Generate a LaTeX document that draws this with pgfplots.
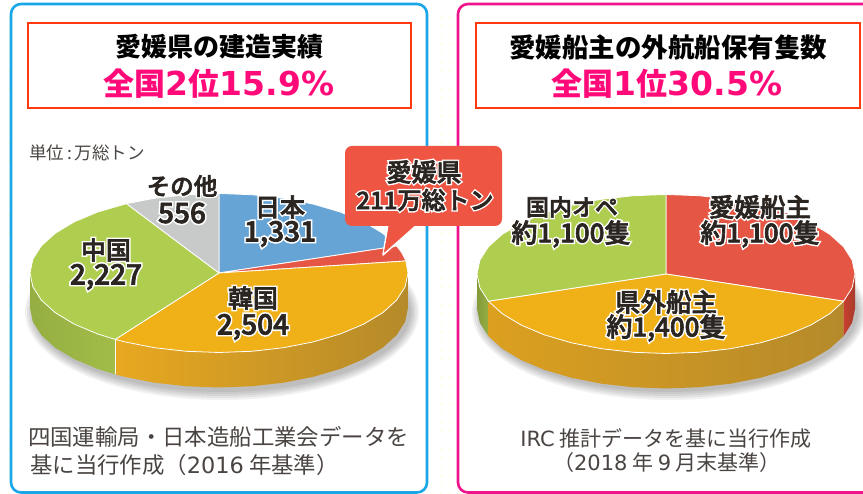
\documentclass[border=0pt]{standalone}
\usepackage{fontspec}
\usepackage{pgfplots}
\pgfplotsset{compat=1.18}
\usetikzlibrary{patterns.meta}
\setmainfont{Noto Sans CJK JP}
\newfontfamily\dv{DejaVu Sans}
\newfontfamily\labfont[FakeBold=2.5]{Noto Sans CJK JP Medium}
\newfontfamily\halofont[FakeBold=14]{Noto Sans CJK JP Medium}
\definecolor{cblue}{HTML}{66A4D5}
\definecolor{cred}{HTML}{E55744}
\definecolor{corange}{HTML}{F0B018}
\definecolor{cgreen}{HTML}{AFCD4E}
\definecolor{cgray}{HTML}{C8CACA}
\definecolor{callout}{HTML}{EE5543}
\definecolor{boxred}{HTML}{FF3A10}
\definecolor{hotpink}{HTML}{FF0A78}
\definecolor{panelblue}{HTML}{1AA7E8}
\definecolor{panelpink}{HTML}{F0148C}
\definecolor{labeltext}{HTML}{2B2522}
\definecolor{notetext}{HTML}{4A4542}
\definecolor{rimoL}{HTML}{E8A820}
\definecolor{rimoM}{HTML}{F0B020}
\definecolor{rimoR}{HTML}{B58A2A}
\definecolor{rimoLb}{HTML}{DCA020}
\definecolor{rimrL}{HTML}{C8402F}
\definecolor{rimrM}{HTML}{BF3E2E}
\definecolor{rimrR}{HTML}{A83A2A}
% text with a white halo, position in reference pixels
\newcommand{\lab}[4]{%
  \node[white,inner sep=0pt] at (#1,{494-#2}) {\fontsize{#3}{#3}\halofont #4};
  \node[labeltext,inner sep=0pt] at (#1,{494-#2}) {\fontsize{#3}{#3}\labfont #4};
}
\newcommand{\txt}[4]{\node[notetext,inner sep=0pt] at (#1,{494-#2}) {\fontsize{#3}{#3}\selectfont #4};}
\pgfplotsset{pie/.style={hide axis,x=189pt,y=79.5pt,xmin=-1.1,xmax=1.1,ymin=-1.6,ymax=1.1,anchor=origin,clip=false},
  wedge/.style={draw=white,line width=0.8pt,line join=round,fill=#1},
  rim/.style n args={3}{draw=none,left color=#1,middle color=#2,right color=#3}}
\begin{document}
\begin{tikzpicture}[x=1pt,y=1pt]
\path[use as bounding box] (0,0) rectangle (863,494);
\fill[white] (0,0) rectangle (863,494);
\fill[pattern={Dots[distance=9pt,radius=0.8pt]},pattern color=green!35!yellow!18] (0,0) rectangle (863,494);
% panels
\draw[panelblue,line width=2.6pt,fill=white,rounded corners=10pt] (11,1.5) rectangle (427,490);
\draw[panelpink,line width=2.6pt,fill=white,rounded corners=10pt] (458,1.5) rectangle (880,490);
\draw[boxred,line width=2pt,fill=white] (27.5,{494-108}) rectangle (411,{494-23.5});
\draw[boxred,line width=2pt,fill=white] (476,{494-108}) rectangle (860,{494-23.5});
% titles
\node[inner sep=0pt] at (219,{494-47}) {\fontsize{26}{26}\selectfont\bfseries 愛媛県の建造実績};
\node[hotpink,inner sep=0pt] at (219,{494-84}) {\fontsize{31}{31}\selectfont\bfseries 全国{\fontsize{33}{33}\selectfont\dv\bfseries 2}位{\fontsize{33}{33}\selectfont\dv\bfseries 15.9\%}};
\node[inner sep=0pt] at (668,{494-47}) {\fontsize{26.5}{26.5}\selectfont\bfseries 愛媛船主の外航船保有隻数};
\node[hotpink,inner sep=0pt] at (667,{494-84}) {\fontsize{31}{31}\selectfont\bfseries 全国{\fontsize{33}{33}\selectfont\dv\bfseries 1}位{\fontsize{33}{33}\selectfont\dv\bfseries 30.5\%}};
% soft shadow under the pies
\foreach \k in {1,3,5,7,9} {
  \fill[black,opacity=0.055] (222,{494-312}) ellipse [x radius={188+\k},y radius={79+\k}];
  \fill[black,opacity=0.055] (669,{494-312}) ellipse [x radius={188+\k},y radius={79+\k}];
}
% left pie: 1331, 211, 2504, 2227, 556 -> 70.2, 11.1, 132, 117.4, 29.3 degrees, from the top clockwise
\begin{axis}[pie,at={(219pt,221pt)}]
% rims
\addplot[rim={cgreen!85!black}{cgreen!88!black}{cgreen!92!black}] coordinates {(-1,0)(-.9848,-.1736)(-.9397,-.342)(-.866,-.5)(-.766,-.6428)(-.6428,-.766)(-.549,-.8358)(-.549,-1.2758)(-.6428,-1.206)(-.766,-1.0828)(-.866,-.94)(-.9397,-.782)(-.9848,-.6136)(-1,-.44)} -- cycle;
\addplot[rim={rimoL}{rimoM}{rimoR}] coordinates {(-.549,-.8358)(-.5,-.866)(-.342,-.9397)(-.1736,-.9848)(0,-1)(.1736,-.9848)(.342,-.9397)(.5,-.866)(.6428,-.766)(.766,-.6428)(.866,-.5)(.9397,-.342)(.9848,-.1736)(1,0)(1,-.44)(.9848,-.6136)(.9397,-.782)(.866,-.94)(.766,-1.0828)(.6428,-1.206)(.5,-1.306)(.342,-1.3797)(.1736,-1.4248)(0,-1.44)(-.1736,-1.4248)(-.342,-1.3797)(-.5,-1.306)(-.549,-1.2758)} -- cycle;
\addplot[white,line width=0.8pt] coordinates {(-.549,-.8358)(-.549,-1.2758)};
% Japan
\addplot[wedge=cblue] coordinates {(0,0)(0,1)(.1736,.9848)(.342,.9397)(.5,.866)(.6428,.766)(.766,.6428)(.866,.5)(.9397,.342)(.9409,.3387)} -- cycle;
% Ehime
\addplot[wedge=cred] coordinates {(0,0)(.9409,.3387)(.9659,.2588)(.9848,.1736)(.9885,.1513)} -- cycle;
% Korea
\addplot[wedge=corange] coordinates {(0,0)(.9885,.1513)(1,0)(.9848,-.1736)(.9397,-.342)(.866,-.5)(.766,-.6428)(.6428,-.766)(.5,-.866)(.342,-.9397)(.1736,-.9848)(0,-1)(-.1736,-.9848)(-.342,-.9397)(-.5,-.866)(-.549,-.8358)} -- cycle;
% China
\addplot[wedge=cgreen] coordinates {(0,0)(-.549,-.8358)(-.6428,-.766)(-.766,-.6428)(-.866,-.5)(-.9397,-.342)(-.9848,-.1736)(-1,0)(-.9848,.1736)(-.9397,.342)(-.866,.5)(-.766,.6428)(-.6428,.766)(-.4894,.8721)} -- cycle;
% other
\addplot[wedge=cgray] coordinates {(0,0)(-.4894,.8721)(-.342,.9397)(-.1736,.9848)(0,1)} -- cycle;
\end{axis}
% right pie: 1100, 1400, 1100 -> 110, 140, 110 degrees
\begin{axis}[pie,at={(666pt,220pt)}]
\addplot[rim={cgreen!75!black}{cgreen!80!black}{cgreen!85!black}] coordinates {(-1,0)(-.9848,-.1736)(-.9397,-.342)(-.9397,-.782)(-.9848,-.6136)(-1,-.44)} -- cycle;
\addplot[rim={rimoLb}{corange}{rimoR}] coordinates {(-.9397,-.342)(-.866,-.5)(-.766,-.6428)(-.6428,-.766)(-.5,-.866)(-.342,-.9397)(-.1736,-.9848)(0,-1)(.1736,-.9848)(.342,-.9397)(.5,-.866)(.6428,-.766)(.766,-.6428)(.866,-.5)(.9397,-.342)(.9397,-.782)(.866,-.94)(.766,-1.0828)(.6428,-1.206)(.5,-1.306)(.342,-1.3797)(.1736,-1.4248)(0,-1.44)(-.1736,-1.4248)(-.342,-1.3797)(-.5,-1.306)(-.6428,-1.206)(-.766,-1.0828)(-.866,-.94)(-.9397,-.782)} -- cycle;
\addplot[rim={rimrL}{rimrM}{rimrR}] coordinates {(.9397,-.342)(.9848,-.1736)(1,0)(1,-.44)(.9848,-.6136)(.9397,-.782)} -- cycle;
% Ehime owners
\addplot[wedge=cred] coordinates {(0,0)(0,1)(.1736,.9848)(.342,.9397)(.5,.866)(.6428,.766)(.766,.6428)(.866,.5)(.9397,.342)(.9848,.1736)(1,0)(.9848,-.1736)(.9397,-.342)} -- cycle;
% owners outside the prefecture
\addplot[wedge=corange] coordinates {(0,0)(.9397,-.342)(.866,-.5)(.766,-.6428)(.6428,-.766)(.5,-.866)(.342,-.9397)(.1736,-.9848)(0,-1)(-.1736,-.9848)(-.342,-.9397)(-.5,-.866)(-.6428,-.766)(-.766,-.6428)(-.866,-.5)(-.9397,-.342)} -- cycle;
% domestic operators
\addplot[wedge=cgreen] coordinates {(0,0)(-.9397,-.342)(-.9848,-.1736)(-1,0)(-.9848,.1736)(-.9397,.342)(-.866,.5)(-.766,.6428)(-.6428,.766)(-.5,.866)(-.342,.9397)(-.1736,.9848)(0,1)} -- cycle;
\end{axis}
% callout
\draw[white,line width=1.5pt,fill=callout,line join=round] (388,{494-224}) -- (383,{494-255}) -- (418,{494-224}) -- cycle;
\fill[callout,rounded corners=7pt] (345,{494-226}) rectangle (502,{494-146});
\fill[callout] (390,{494-222}) -- (384,{494-252}) -- (415,{494-222}) -- cycle;
% slice labels
\lab{182}{186}{23.5}{その他}
\lab{182}{213}{28}{556}
\lab{280}{207}{25}{日本}
\lab{280}{234}{28}{1,331}
\lab{106}{250}{25}{中国}
\lab{106}{277}{28}{2,227}
\lab{253}{298}{25}{韓国}
\lab{253}{327}{28}{2,504}
\lab{424}{172}{25}{愛媛県}
\lab{425}{200}{24}{211万総トン}
\lab{572}{207}{23}{国内オペ}
\lab{571}{234}{26}{約1,100隻}
\lab{760}{207}{25.5}{愛媛船主}
\lab{760}{234}{26}{約1,100隻}
\lab{666}{302}{25.5}{県外船主}
\lab{666}{328}{26}{約1,400隻}
% notes
\txt{87}{153}{17.5}{単位\,:\,万総トン}
\node[notetext,inner sep=0pt,anchor=west] at (28,{494-437}) {\fontsize{22.4}{22.4}\selectfont 四国運輸局・日本造船工業会データを};
\node[notetext,inner sep=0pt,anchor=west] at (30,{494-465}) {\fontsize{22.4}{22.4}\selectfont 基に当行作成（{\dv 2016} 年基準）};
\txt{666}{438}{21}{{\dv IRC} 推計データを基に当行作成}
\txt{667}{463}{21}{（{\dv 2018} 年 {\dv 9} 月末基準）}
\end{tikzpicture}
\end{document}
